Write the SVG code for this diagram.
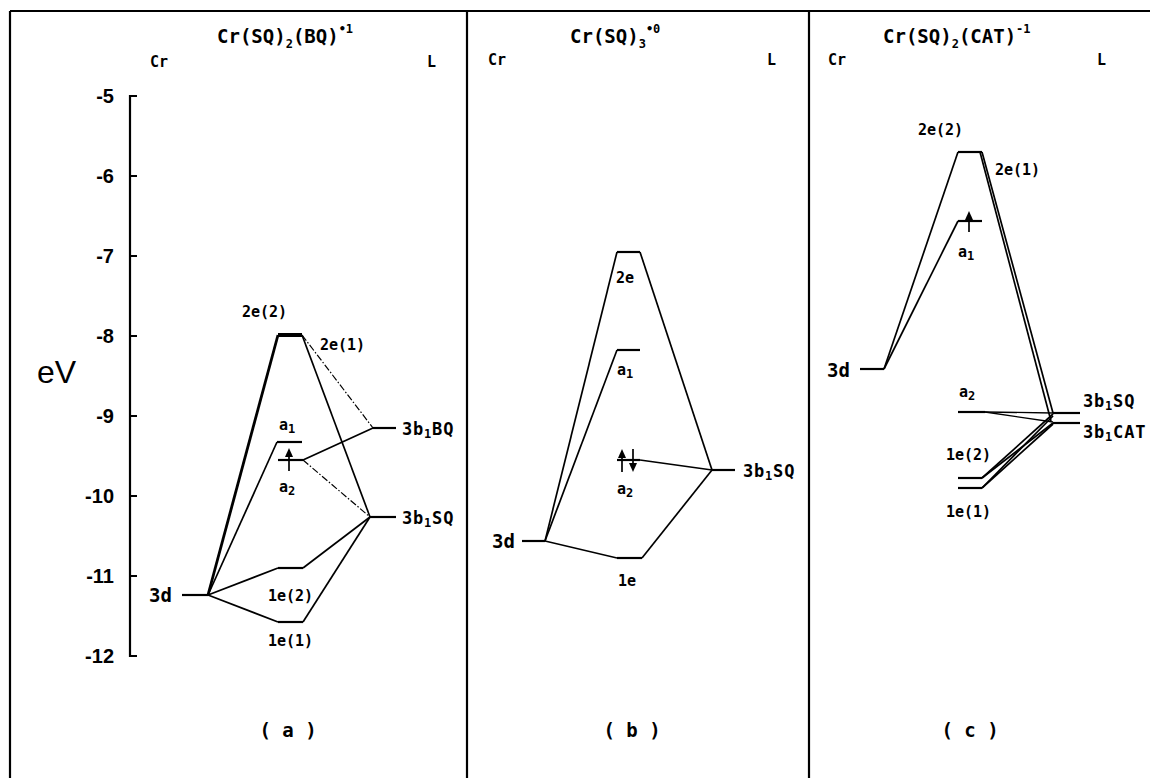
<svg xmlns="http://www.w3.org/2000/svg" width="1150" height="778" viewBox="0 0 1150 778">
<style>
.fr{fill:none;stroke:#000;stroke-width:2.2}
.lv{stroke:#000;stroke-width:2.2;fill:none}
.ln{stroke:#000;stroke-width:1.7;fill:none}
.thk{stroke-width:2.8}
.dd{stroke-dasharray:7 2 1.5 2;stroke-width:1.2}
.t{font-family:"DejaVu Sans Mono","Liberation Mono",monospace;font-weight:bold;fill:#000}
.lab{font-size:15px}
.lb{font-size:17px;letter-spacing:0.8px}
.big{font-size:19px}
.ttl{font-size:19px}
.sub{font-size:12px}
.tk{font-family:"Liberation Sans",Arial,sans-serif;font-size:20px;font-weight:bold;text-anchor:end;fill:#000}
.ev{font-family:"Liberation Sans",Arial,sans-serif;font-size:32px;fill:#000}
.mid{text-anchor:middle}
</style>
<defs>
<path id="up" d="M0,0 L-4,9 L4,9 Z"/>
</defs>

<g id="frame">
<path class="fr" d="M10,11 H1150 M10,11 V778 M467,11 V778 M809,11 V778"/>
</g>

<g id="axis">
<path class="fr" d="M137,96 H130 V656 H137 M130,176 H137 M130,256 H137 M130,336 H137 M130,416 H137 M130,496 H137 M130,576 H137"/>
<text class="tk" x="114" y="103">-5</text>
<text class="tk" x="114" y="183">-6</text>
<text class="tk" x="114" y="263">-7</text>
<text class="tk" x="114" y="343">-8</text>
<text class="tk" x="114" y="423">-9</text>
<text class="tk" x="114" y="503">-10</text>
<text class="tk" x="114" y="583">-11</text>
<text class="tk" x="114" y="663">-12</text>
<text class="ev" x="37" y="383">eV</text>
</g>

<!-- Panel a -->
<g id="titleA">
<text class="t ttl" x="217" y="43">Cr(SQ)<tspan class="sub" dy="5">2</tspan><tspan dy="-5">(BQ)</tspan><tspan class="sub" dy="-10">•1</tspan></text>
<text class="t lab" x="150" y="67">Cr</text>
<text class="t lab" x="427" y="67">L</text>
</g>
<g id="a-3d"><line class="lv" x1="182" y1="595" x2="208" y2="595"/><text class="t big" x="149" y="602">3d</text></g>
<g id="a-2e"><line class="lv" x1="278" y1="335" x2="302" y2="335" style="stroke-width:4"/><text class="t lab" x="242" y="317">2e(2)</text><text class="t lab" x="320" y="350">2e(1)</text></g>
<g id="a-a1"><line class="lv" x1="277" y1="442" x2="302" y2="442"/><text class="t lab" x="279" y="430">a<tspan class="sub" dy="3">1</tspan></text></g>
<g id="a-a2"><line class="lv" x1="278" y1="460" x2="303" y2="460"/><line class="ln" x1="289" y1="471" x2="289" y2="454"/><use href="#up" x="289" y="448"/><text class="t lab" x="279" y="492">a<tspan class="sub" dy="3">2</tspan></text></g>
<g id="a-1e2"><line class="lv" x1="278" y1="568" x2="303" y2="568"/><text class="t lab" x="268" y="601">1e(2)</text></g>
<g id="a-1e1"><line class="lv" x1="278" y1="622" x2="303" y2="622"/><text class="t lab" x="268" y="646">1e(1)</text></g>
<g id="a-bq"><line class="lv" x1="373" y1="428" x2="396" y2="428"/><text class="t lb" x="402" y="435">3b<tspan class="sub" dy="3">1</tspan><tspan dy="-3">BQ</tspan></text></g>
<g id="a-sq"><line class="lv" x1="370" y1="517" x2="396" y2="517"/><text class="t lb" x="402" y="524">3b<tspan class="sub" dy="3">1</tspan><tspan dy="-3">SQ</tspan></text></g>
<g id="a-lbl"><text class="t big mid" x="288" y="737">( a )</text></g>

<!-- Panel b -->
<g id="titleB">
<text class="t ttl" x="570" y="43">Cr(SQ)<tspan class="sub" dy="5">3</tspan><tspan class="sub" dy="-15">•0</tspan></text>
<text class="t lab" x="488" y="65">Cr</text>
<text class="t lab" x="767" y="65">L</text>
</g>
<g id="b-3d"><line class="lv" x1="522" y1="541" x2="545" y2="541"/><text class="t big" x="492" y="548">3d</text></g>
<g id="b-2e"><line class="lv" x1="617" y1="252" x2="640" y2="252"/><text class="t lab" x="616" y="283">2e</text></g>
<g id="b-a1"><line class="lv" x1="617" y1="350" x2="640" y2="350"/><text class="t lab" x="617" y="375">a<tspan class="sub" dy="3">1</tspan></text></g>
<g id="b-a2"><line class="lv" x1="617" y1="460" x2="640" y2="460"/><line class="ln" x1="622" y1="472" x2="622" y2="455"/><use href="#up" x="622" y="449"/><line class="ln" x1="633" y1="449" x2="633" y2="466"/><use href="#up" transform="translate(633,472) rotate(180)"/><text class="t lab" x="617" y="494">a<tspan class="sub" dy="3">2</tspan></text></g>
<g id="b-1e"><line class="lv" x1="617" y1="558" x2="642" y2="558"/><text class="t lab" x="618" y="586">1e</text></g>
<g id="b-sq"><line class="lv" x1="712" y1="470" x2="735" y2="470"/><text class="t lb" x="743" y="477">3b<tspan class="sub" dy="3">1</tspan><tspan dy="-3">SQ</tspan></text></g>
<g id="b-lbl"><text class="t big mid" x="632" y="737">( b )</text></g>

<!-- Panel c -->
<g id="titleC">
<text class="t ttl" x="883" y="43">Cr(SQ)<tspan class="sub" dy="5">2</tspan><tspan dy="-5">(CAT)</tspan><tspan class="sub" dy="-10">-1</tspan></text>
<text class="t lab" x="828" y="65">Cr</text>
<text class="t lab" x="1097" y="65">L</text>
</g>
<g id="c-3d"><line class="lv" x1="860" y1="369" x2="884" y2="369"/><text class="t big" x="827" y="377">3d</text></g>
<g id="c-2e"><line class="lv" x1="958" y1="152" x2="982" y2="152"/><text class="t lab" x="918" y="135">2e(2)</text><text class="t lab" x="995" y="175">2e(1)</text></g>
<g id="c-a1"><line class="lv" x1="958" y1="221" x2="982" y2="221"/><line class="ln" x1="969" y1="232" x2="969" y2="217"/><use href="#up" x="969" y="211"/><text class="t lab" x="958" y="257">a<tspan class="sub" dy="3">1</tspan></text></g>
<g id="c-a2"><line class="lv" x1="958" y1="412" x2="985" y2="412"/><text class="t lab" x="959" y="397">a<tspan class="sub" dy="3">2</tspan></text></g>
<g id="c-1e2"><line class="lv" x1="958" y1="478" x2="982" y2="478"/><text class="t lab" x="946" y="460">1e(2)</text></g>
<g id="c-1e1"><line class="lv" x1="958" y1="488" x2="982" y2="488"/><text class="t lab" x="946" y="517">1e(1)</text></g>
<g id="c-sq"><line class="lv" x1="1053" y1="413" x2="1080" y2="413"/><text class="t lb" x="1083" y="407">3b<tspan class="sub" dy="3">1</tspan><tspan dy="-3">SQ</tspan></text></g>
<g id="c-cat"><line class="lv" x1="1053" y1="423" x2="1080" y2="423"/><text class="t lb" x="1083" y="438">3b<tspan class="sub" dy="3">1</tspan><tspan dy="-3">CAT</tspan></text></g>
<g id="c-lbl"><text class="t big mid" x="970" y="737">( c )</text></g>

<g id="connectors">
<!-- a -->
<line class="ln thk" x1="208" y1="595" x2="278" y2="335"/>
<line class="ln" x1="208" y1="595" x2="277" y2="442"/>
<line class="ln" x1="208" y1="595" x2="278" y2="568"/>
<line class="ln" x1="208" y1="595" x2="278" y2="622"/>
<line class="ln dd" x1="302" y1="335" x2="373" y2="428"/>
<line class="ln" x1="302" y1="335" x2="370" y2="517"/>
<line class="ln" x1="303" y1="460" x2="373" y2="428"/>
<line class="ln dd" x1="303" y1="460" x2="370" y2="517"/>
<line class="ln" x1="303" y1="568" x2="370" y2="517"/>
<line class="ln" x1="303" y1="622" x2="370" y2="517"/>
<!-- b -->
<line class="ln" x1="545" y1="541" x2="617" y2="252"/>
<line class="ln" x1="545" y1="541" x2="617" y2="350"/>
<line class="ln" x1="545" y1="541" x2="617" y2="558" style="stroke-width:1.3"/>
<line class="ln" x1="640" y1="252" x2="712" y2="470"/>
<line class="ln" x1="640" y1="460" x2="712" y2="470"/>
<line class="ln" x1="642" y1="558" x2="712" y2="470"/>
<!-- c -->
<line class="ln" x1="884" y1="369" x2="958" y2="152"/>
<line class="ln" x1="884" y1="369" x2="958" y2="221"/>
<line class="ln" x1="982" y1="152" x2="1053" y2="413"/>
<line class="ln" x1="980" y1="152" x2="1051" y2="421"/>
<line class="ln" x1="985" y1="412" x2="1053" y2="413" style="stroke-width:1.3"/>
<line class="ln" x1="985" y1="412" x2="1053" y2="422" style="stroke-width:1.3"/>
<line class="ln" x1="982" y1="478" x2="1053" y2="414"/>
<line class="ln" x1="982" y1="478" x2="1053" y2="423"/>
<line class="ln" x1="982" y1="488" x2="1053" y2="416"/>
<line class="ln" x1="982" y1="488" x2="1053" y2="424"/>
</g>
</svg>
